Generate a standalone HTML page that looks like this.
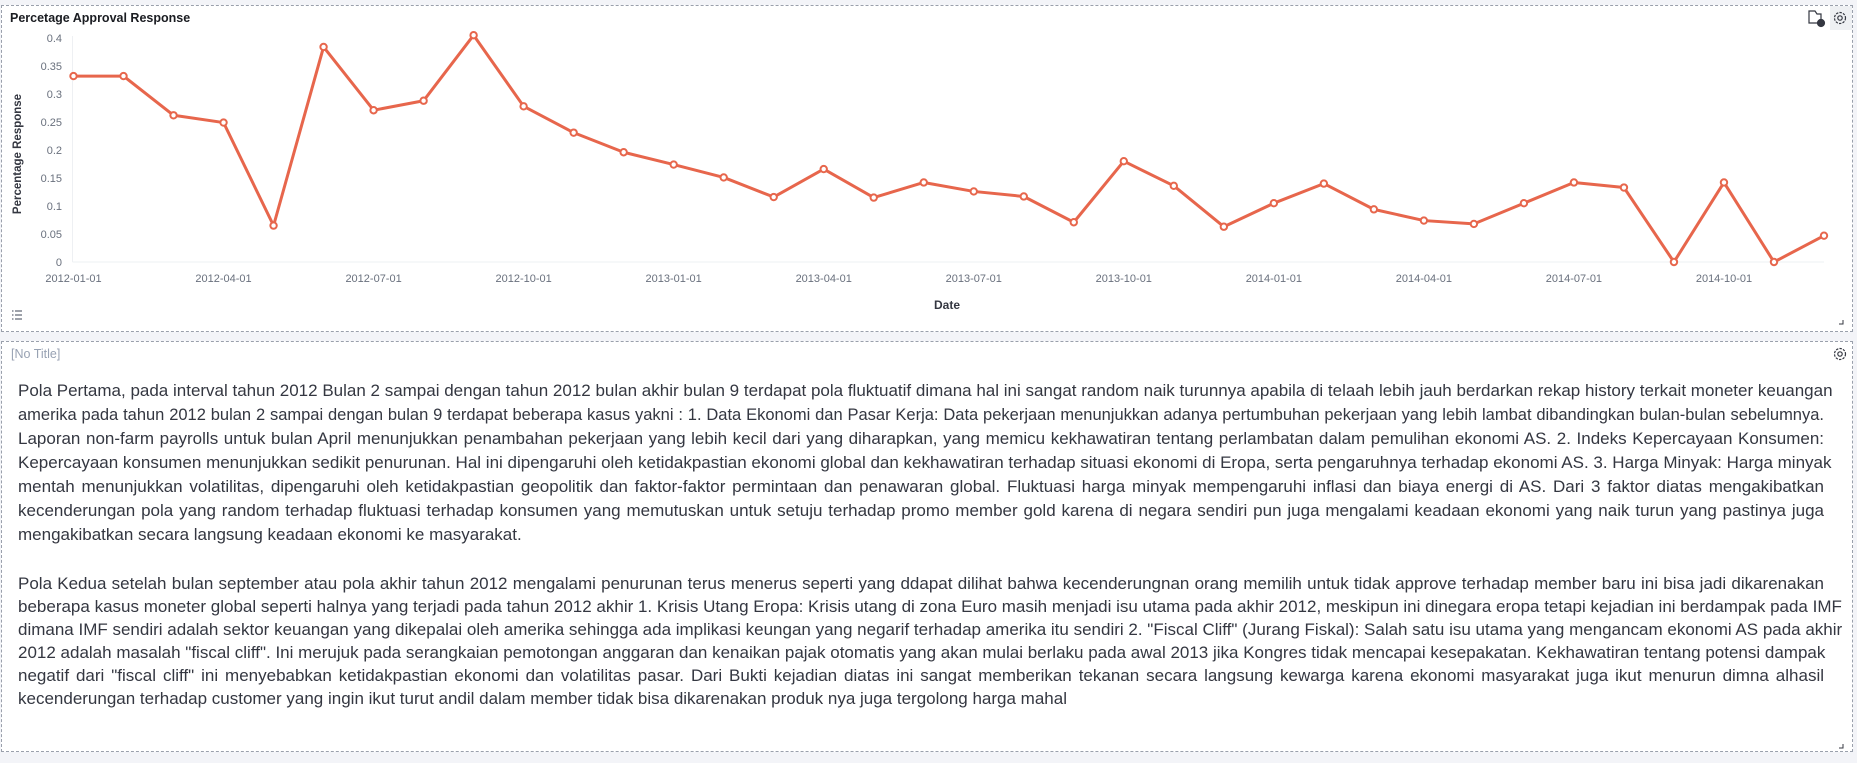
<!DOCTYPE html>
<html><head><meta charset="utf-8">
<style>
html,body{margin:0;padding:0;width:1857px;height:763px;overflow:hidden;background:#f3f4f8;font-family:"Liberation Sans",sans-serif;}
.panel{position:absolute;background:#fff;border:1px dashed #9aa0ac;box-sizing:border-box;}
#p1{left:1px;top:5px;width:1852px;height:327px;}
#p2{left:1px;top:341px;width:1852px;height:411px;}
.line{position:absolute;left:18px;width:1806px;font-size:17px;color:#343741;white-space:nowrap;text-align:justify;text-align-last:justify;line-height:20px;}
.last{text-align:left;text-align-last:left;}
.tight{font-size:16.5px;}
</style></head><body>
<div class="panel" id="p1"></div>
<div class="panel" id="p2">
<div style="position:absolute;left:9px;top:5px;font-size:12.5px;color:#98a2b3;">[No Title]</div>
</div>
<svg id="chart" width="1857" height="763" style="position:absolute;left:0;top:0">
<text x="10" y="22" font-size="12.5" font-weight="bold" fill="#1a1c21">Percetage Approval Response</text>
<text transform="translate(21,154) rotate(-90)" text-anchor="middle" font-size="11.5" font-weight="bold" fill="#343741">Percentage Response</text>
<text x="947" y="309" text-anchor="middle" font-size="12" font-weight="bold" fill="#343741">Date</text>
<g id="yt"></g><g id="xt"></g><g id="series"></g>
<g stroke="#69707d" stroke-width="1.3">
<line x1="12" y1="311" x2="13.5" y2="311"/><line x1="15" y1="311" x2="22" y2="311"/>
<line x1="12" y1="315" x2="13.5" y2="315"/><line x1="15" y1="315" x2="22" y2="315"/>
<line x1="12" y1="319" x2="13.5" y2="319"/><line x1="15" y1="319" x2="22" y2="319"/>
</g>
<g fill="none" stroke="#343741" stroke-width="1.2">
<path d="M1809 11 h6 l2 3 h4 v9 h-12 z"/><circle cx="1821" cy="23" r="3.5" fill="#343741"/>
</g>
<rect x="1830" y="6" width="22" height="24" fill="#eef0f3"/>
<g fill="none" stroke="#343741" stroke-width="1.2">
<circle cx="1840" cy="18" r="5.5" stroke-dasharray="2.4 1.2"/><circle cx="1840" cy="18" r="2.2"/>
</g>
<g fill="none" stroke="#343741" stroke-width="1.2">
<circle cx="1840" cy="354" r="5.5" stroke-dasharray="2.4 1.2"/><circle cx="1840" cy="354" r="2.2"/>
</g>
<path d="M1843 320 v4 h-4" stroke="#343741" fill="none"/>
<path d="M1843 744 v4 h-4" stroke="#343741" fill="none"/>
</svg>

<div id="txt">
<div class="line" style="top:381px">Pola Pertama, pada interval tahun 2012 Bulan 2 sampai dengan tahun 2012 bulan akhir bulan 9 terdapat pola fluktuatif dimana hal ini sangat random naik turunnya apabila di telaah lebih jauh berdarkan rekap history terkait moneter keuangan</div>
<div class="line tight" style="top:405px">amerika pada tahun 2012 bulan 2 sampai dengan bulan 9 terdapat beberapa kasus yakni : 1. Data Ekonomi dan Pasar Kerja: Data pekerjaan menunjukkan adanya pertumbuhan pekerjaan yang lebih lambat dibandingkan bulan-bulan sebelumnya.</div>
<div class="line" style="top:429px">Laporan non-farm payrolls untuk bulan April menunjukkan penambahan pekerjaan yang lebih kecil dari yang diharapkan, yang memicu kekhawatiran tentang perlambatan dalam pemulihan ekonomi AS. 2. Indeks Kepercayaan Konsumen:</div>
<div class="line" style="top:453px">Kepercayaan konsumen menunjukkan sedikit penurunan. Hal ini dipengaruhi oleh ketidakpastian ekonomi global dan kekhawatiran terhadap situasi ekonomi di Eropa, serta pengaruhnya terhadap ekonomi AS. 3. Harga Minyak: Harga minyak</div>
<div class="line" style="top:477px">mentah menunjukkan volatilitas, dipengaruhi oleh ketidakpastian geopolitik dan faktor-faktor permintaan dan penawaran global. Fluktuasi harga minyak mempengaruhi inflasi dan biaya energi di AS. Dari 3 faktor diatas mengakibatkan</div>
<div class="line" style="top:501px">kecenderungan pola yang random terhadap fluktuasi terhadap konsumen yang memutuskan untuk setuju terhadap promo member gold karena di negara sendiri pun juga mengalami keadaan ekonomi yang naik turun yang pastinya juga</div>
<div class="line last" style="top:525px">mengakibatkan secara langsung keadaan ekonomi ke masyarakat.</div>

<div class="line" style="top:574px">Pola Kedua setelah bulan september atau pola akhir tahun 2012 mengalami penurunan terus menerus seperti yang ddapat dilihat bahwa kecenderungnan orang memilih untuk tidak approve terhadap member baru ini bisa jadi dikarenakan</div>
<div class="line" style="top:597px">beberapa kasus moneter global seperti halnya yang terjadi pada tahun 2012 akhir 1. Krisis Utang Eropa: Krisis utang di zona Euro masih menjadi isu utama pada akhir 2012, meskipun ini dinegara eropa tetapi kejadian ini berdampak pada IMF</div>
<div class="line" style="top:620px">dimana IMF sendiri adalah sektor keuangan yang dikepalai oleh amerika sehingga ada implikasi keungan yang negarif terhadap amerika itu sendiri 2. "Fiscal Cliff" (Jurang Fiskal): Salah satu isu utama yang mengancam ekonomi AS pada akhir</div>
<div class="line" style="top:643px">2012 adalah masalah "fiscal cliff". Ini merujuk pada serangkaian pemotongan anggaran dan kenaikan pajak otomatis yang akan mulai berlaku pada awal 2013 jika Kongres tidak mencapai kesepakatan. Kekhawatiran tentang potensi dampak</div>
<div class="line" style="top:666px">negatif dari "fiscal cliff" ini menyebabkan ketidakpastian ekonomi dan volatilitas pasar. Dari Bukti kejadian diatas ini sangat memberikan tekanan secara langsung kewarga karena ekonomi masyarakat juga ikut menurun dimna alhasil</div>
<div class="line last" style="top:689px">kecenderungan terhadap customer yang ingin ikut turut andil dalam member tidak bisa dikarenakan produk nya juga tergolong harga mahal</div>
</div>

<script>
const values = [0.332,0.332,0.262,0.249,0.065,0.384,0.271,0.288,0.405,0.278,0.231,0.196,
0.174,0.151,0.116,0.166,0.115,0.142,0.126,0.117,0.071,0.180,0.136,0.063,
0.105,0.140,0.094,0.074,0.068,0.105,0.142,0.133,0,0.142,0,0.047];
const yTicks = [0,0.05,0.1,0.15,0.2,0.25,0.3,0.35,0.4];
const yTickLabels = ["0","0.05","0.1","0.15","0.2","0.25","0.3","0.35","0.4"];
const xTickLabels = ["2012-01-01","2012-04-01","2012-07-01","2012-10-01","2013-01-01","2013-04-01","2013-07-01","2013-10-01","2014-01-01","2014-04-01","2014-07-01","2014-10-01"];
const xTickIndex = [0,3,6,9,12,15,18,21,24,27,30,33];

const NS="http://www.w3.org/2000/svg";
const X0=73.5, X1=1824, Y0=262, Y1=38, YMAX=0.4;
const xs=i=>X0+(X1-X0)*i/(values.length-1);
const ys=v=>Y0-(Y0-Y1)*v/YMAX;
function mk(tag,attrs,parent){const e=document.createElementNS(NS,tag);for(const k in attrs)e.setAttribute(k,attrs[k]);parent.appendChild(e);return e;}
const yt=document.getElementById('yt'), xt=document.getElementById('xt'), sg=document.getElementById('series');
mk('line',{x1:X0-1,y1:Y1-2,x2:X0-1,y2:Y0,stroke:'#eef0f3'},yt);
mk('line',{x1:X0-1,y1:Y0,x2:X1,y2:Y0,stroke:'#eef0f3'},yt);
yTicks.forEach((v,i)=>{
  const t=mk('text',{x:62,y:ys(v)+4,'text-anchor':'end','font-size':'11','fill':'#69707d'},yt);
  
  
  t.textContent=yTickLabels[i];
});
xTickLabels.forEach((l,i)=>{
  const t=mk('text',{x:xs(xTickIndex[i]),y:282,'text-anchor':'middle','font-size':'11','fill':'#69707d'},xt);
  
  
  t.textContent=l;
});
const pl=mk('polyline',{points:values.map((v,i)=>xs(i)+','+ys(v)).join(' '),fill:'none',stroke:'#e7664c','stroke-width':'3','stroke-linejoin':'round'},sg);


values.forEach((v,i)=>{
  const c=mk('circle',{cx:xs(i),cy:ys(v),r:3.2,fill:'#fff',stroke:'#e7664c','stroke-width':'2'},sg);
  
  
});
</script>
</body></html>
